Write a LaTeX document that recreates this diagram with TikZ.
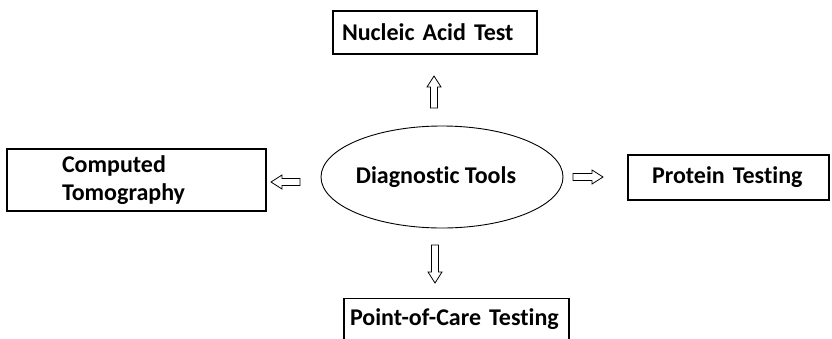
\documentclass[tikz,border=0pt]{standalone}
\usepackage{fontspec}
\setmainfont{Carlito}[Ligatures=NoCommon]
\usetikzlibrary{shapes.geometric}
\tikzset{
  labelbox/.style={draw=black, line width=1.1pt, rectangle, font=\bfseries\fontsize{24}{28}\selectfont,
    align=left, inner ysep=0pt},
  hub/.style={draw=black, line width=0.9pt, ellipse, minimum width=242pt, minimum height=102pt,
    inner sep=0pt, font=\bfseries\fontsize{24}{28}\selectfont},
  % hollow block arrow of a given length, pointing along +x, centred on the pic origin
  pics/blockarrow/.style={code={
    \draw[line width=0.8pt, line join=miter, black]
      (-#1/2,-3.5) -- (#1/2-11,-3.5) -- (#1/2-11,-7) -- (#1/2,0)
      -- (#1/2-11,7) -- (#1/2-11,3.5) -- (-#1/2,3.5) -- cycle;
  }}
}
\begin{document}
\begin{tikzpicture}[x=1pt, y=-1pt]
  \useasboundingbox (0,0) rectangle (832,338);
  \clip (0,0) rectangle (832,338);

  % central ellipse
  \node[hub] (dx) at (442,177) {\hspace*{-12pt}Diagnostic Tools};

  % surrounding boxes
  \node[labelbox, minimum height=43pt, text width=186pt, inner xsep=9pt] (nat) at (435,32.5) {Nucleic Acid Test};
  \node[labelbox, minimum height=62pt, text width=149pt, inner xsep=55pt] (ct) at (136.5,180) {Computed\\Tomography};
  \node[labelbox, minimum height=45pt, text width=153pt, inner xsep=24pt] (pt) at (728.5,177.5) {Protein Testing};
  \node[labelbox, anchor=north, text width=213pt, inner xsep=6pt, inner ysep=12pt,
        text height=15pt, text depth=6pt] (poc) at (456.5,298) {Point-of-Care Testing};

  % hollow block arrows from the hub to each box
  \pic[rotate=90]  (up)    at (434,92)    {blockarrow=32};
  \pic[rotate=180] (left)  at (285.5,182) {blockarrow=29};
  \pic             (right) at (588,177)   {blockarrow=30};
  \pic[rotate=270] (down)  at (435,264)   {blockarrow=38};
\end{tikzpicture}
\end{document}
